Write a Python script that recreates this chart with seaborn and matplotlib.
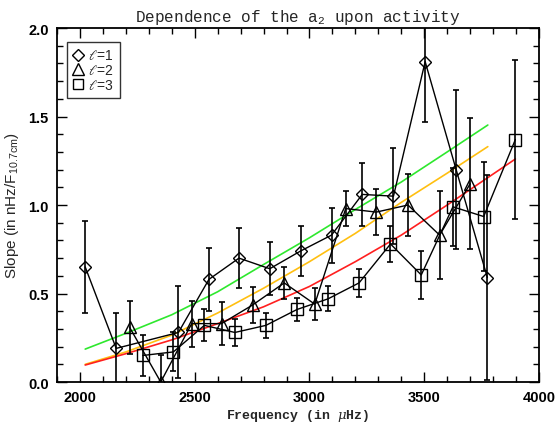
import numpy as np
import pandas as pd
import matplotlib
matplotlib.use("Agg")
import matplotlib.pyplot as plt
import seaborn as sns
from matplotlib.lines import Line2D
from matplotlib.ticker import MultipleLocator, FormatStrFormatter

# ---------------- data ----------------
l1_freq = [2023, 2158, 2429, 2562, 2693, 2827, 2961, 3096, 3230, 3366, 3504, 3639, 3775]
l1_slope = [0.65, 0.19, 0.28, 0.58, 0.70, 0.64, 0.74, 0.83, 1.06, 1.05, 1.81, 1.20, 0.59]
l1_err = [0.26, 0.20, 0.26, 0.18, 0.17, 0.15, 0.14, 0.155, 0.18, 0.27, 0.34, 0.45, 0.58]

l2_freq = [2216, 2352, 2487, 2617, 2752, 2890, 3023, 3158, 3291, 3429, 3567, 3700]
l2_slope = [0.31, 0.00, 0.33, 0.33, 0.435, 0.56, 0.44, 0.98, 0.96, 1.00, 0.83, 1.12]
l2_err = [0.15, 0.15, 0.13, 0.12, 0.10, 0.09, 0.09, 0.10, 0.13, 0.175, 0.25, 0.37]

l3_freq = [2274, 2407, 2542, 2675, 2810, 2946, 3081, 3216, 3353, 3487, 3625, 3759, 3897]
l3_slope = [0.15, 0.17, 0.32, 0.28, 0.32, 0.41, 0.47, 0.56, 0.78, 0.605, 0.99, 0.935, 1.37]
l3_err = [0.115, 0.11, 0.09, 0.076, 0.07, 0.065, 0.07, 0.078, 0.10, 0.137, 0.22, 0.31, 0.45]

# fitted curves
green_freq = [2023, 2200, 2400, 2600, 2800, 3000, 3200, 3400, 3600, 3777]
green_slope = [0.186, 0.275, 0.38, 0.51, 0.664, 0.815, 0.975, 1.13, 1.30, 1.452]

yellow_freq = [2023, 2200, 2400, 2600, 2800, 3000, 3200, 3400, 3600, 3777]
yellow_slope = [0.10, 0.17, 0.265, 0.39, 0.53, 0.68, 0.84, 1.015, 1.18, 1.33]

red_freq = [2023, 2200, 2400, 2600, 2800, 3000, 3200, 3400, 3600, 3800, 3897]
red_slope = [0.096, 0.16, 0.238, 0.33, 0.425, 0.54, 0.68, 0.83, 1.00, 1.175, 1.26]

legend_labels = [r"$\ell$=1", r"$\ell$=2", r"$\ell$=3"]
title = r"Dependence of the a$_\mathregular{2}$ upon activity"
xlabel = r"Frequency (in $\mu$Hz)"
ylabel = r"Slope (in nHz/F$_\mathregular{10.7cm}$)"

# ---------------- style ----------------
sns.set_style("ticks")
plt.rcParams["font.family"] = ["Liberation Sans", "DejaVu Sans"]
plt.rcParams["mathtext.fontset"] = "dejavuserif"

fig = plt.figure(figsize=(5.57, 4.27), dpi=100)
ax = fig.add_axes([0.1023, 0.103, 0.8654, 0.829])

# fit curves
for fx, fy, col in [(green_freq, green_slope, "#2ee82e"),
                    (yellow_freq, yellow_slope, "#ffbf10"),
                    (red_freq, red_slope, "#ff1f1f")]:
    sns.lineplot(x=fx, y=fy, ax=ax, color=col, linewidth=1.2,
                 sort=False, estimator=None, legend=False)

# data series
series = [(l1_freq, l1_slope, l1_err, "D", 6.5),
          (l2_freq, l2_slope, l2_err, "^", 9),
          (l3_freq, l3_slope, l3_err, "s", 8.5)]
for fx, fy, fe, mk, ms in series:
    ax.errorbar(fx, fy, yerr=fe, fmt="none", ecolor="black",
                elinewidth=1.2, capsize=2, capthick=1.2, zorder=3)
    sns.lineplot(x=fx, y=fy, ax=ax, color="black", linewidth=1.0,
                 marker=mk, markersize=ms, markerfacecolor="none",
                 markeredgecolor="black", markeredgewidth=1.0,
                 sort=False, estimator=None, legend=False, zorder=4)

ax.set_xlim(1900, 4000)
ax.set_ylim(0, 2.0)
ax.xaxis.set_major_locator(MultipleLocator(500))
ax.xaxis.set_minor_locator(MultipleLocator(100))
ax.yaxis.set_major_locator(MultipleLocator(0.5))
ax.yaxis.set_minor_locator(MultipleLocator(0.1))
ax.yaxis.set_major_formatter(FormatStrFormatter("%.1f"))
ax.tick_params(which="both", direction="in", top=True, right=True,
               width=1.0, colors="black", labelsize=10.5, pad=6)
ax.tick_params(which="major", length=7)
ax.tick_params(which="minor", length=4)
for lab in ax.get_xticklabels() + ax.get_yticklabels():
    lab.set_fontweight("bold")
for sp in ax.spines.values():
    sp.set_linewidth(1.3)
    sp.set_color("black")

ax.set_title(title, family="Liberation Mono", fontsize=11.5, pad=5)
ax.set_xlabel(xlabel, family="Liberation Mono", fontsize=9.5, fontweight="bold", labelpad=2)
ax.set_ylabel(ylabel, family="Liberation Sans", fontsize=11, labelpad=5)

handles = [Line2D([], [], marker="D", ls="none", mfc="none", mec="black", ms=6),
           Line2D([], [], marker="^", ls="none", mfc="none", mec="black", ms=8),
           Line2D([], [], marker="s", ls="none", mfc="none", mec="black", ms=7)]
leg = ax.legend(handles, legend_labels, loc="upper left",
                bbox_to_anchor=(0.02, 0.96), frameon=True, fancybox=False,
                edgecolor="black", fontsize=10, handlelength=0.8,
                handletextpad=0.3, labelspacing=0.05, borderpad=0.45,
                borderaxespad=0)
leg.get_frame().set_linewidth(1.0)

fig.savefig("out.png", dpi=100)
